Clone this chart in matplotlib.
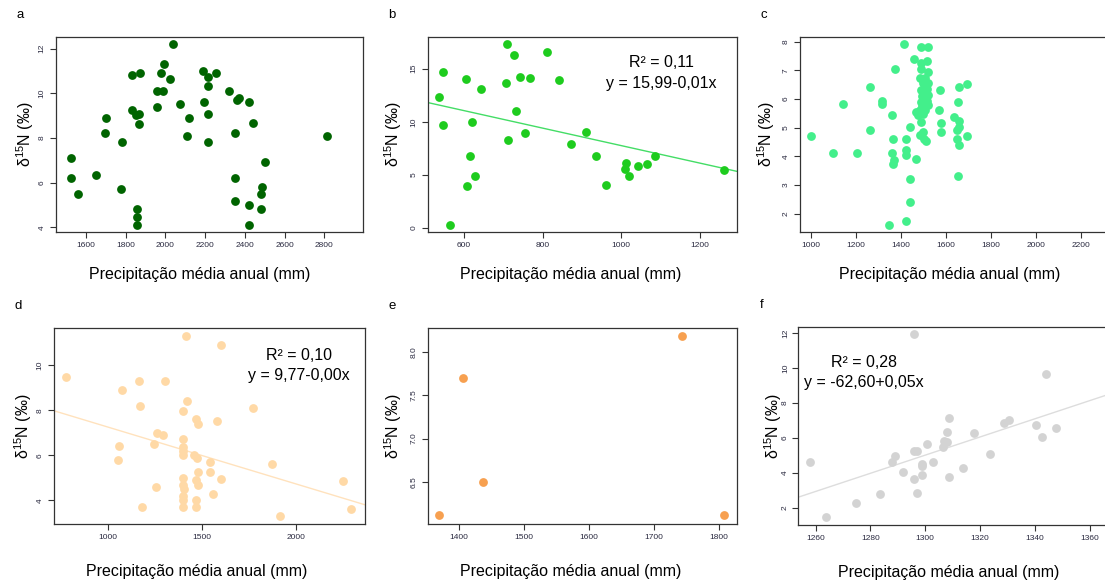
import matplotlib
matplotlib.use("Agg")
import matplotlib.pyplot as plt

plt.rcParams['font.family'] = ['Liberation Sans', 'DejaVu Sans']
plt.rcParams['mathtext.fontset'] = 'custom'
plt.rcParams['mathtext.rm'] = 'Liberation Sans'
plt.rcParams['mathtext.default'] = 'regular'

# painel a
a_x = [1524, 1524, 1561, 1649, 1696, 1701, 1780, 1777, 1834, 1834, 1855, 1872, 1869, 1869,
       1857, 1857, 1857, 1960, 1956, 1987, 1978, 1995, 2024, 2037, 2074, 2119, 2111, 2192,
       2195, 2217, 2217, 2214, 2214, 2256, 2320, 2360, 2370, 2350, 2350, 2350, 2419, 2439,
       2419, 2419, 2503, 2486, 2481, 2481, 2814]
a_y = [7.10, 6.20, 5.50, 6.32, 8.20, 8.90, 7.81, 5.72, 10.80, 9.23, 9.05, 10.92, 9.09, 8.61,
       4.81, 4.48, 4.09, 9.39, 10.11, 10.11, 10.92, 11.33, 10.62, 12.22, 9.51, 8.91, 8.10, 11.00,
       9.63, 10.71, 10.32, 9.09, 7.81, 10.92, 10.11, 9.69, 9.81, 8.21, 6.20, 5.20, 9.63, 8.69,
       5.02, 4.09, 6.92, 5.81, 5.50, 4.81, 8.10]

# painel b
b_x = [536, 546, 546, 563, 604, 607, 615, 621, 627, 642, 708, 706, 713, 727, 731, 743, 754,
       767, 811, 842, 871, 910, 937, 961, 1010, 1013, 1019, 1042, 1066, 1086, 1263]
b_y = [12.36, 14.69, 9.69, 0.28, 14.00, 3.99, 6.76, 10.00, 4.87, 13.05, 17.36, 13.62, 8.30,
       16.26, 11.00, 14.25, 8.93, 14.15, 16.57, 13.90, 7.93, 9.03, 6.76, 4.09, 5.57, 6.13, 4.87,
       5.88, 6.04, 6.82, 5.44]
b_fit = (15.99, -0.00823)

# painel c
c_x = [1000, 1100, 1142, 1207, 1263, 1263, 1319, 1319, 1348, 1363, 1360, 1366, 1370, 1366,
       1373, 1414, 1425, 1425, 1425, 1425, 1443, 1443, 1443, 1460, 1469, 1469, 1491, 1520,
       1516, 1491, 1491, 1520, 1484, 1510, 1498, 1520, 1490, 1515, 1495, 1520, 1490, 1515,
       1495, 1520, 1485, 1510, 1478, 1500, 1490, 1484, 1499, 1514, 1505, 1576, 1569, 1579,
       1579, 1635, 1657, 1693, 1656, 1660, 1660, 1652, 1652, 1660, 1696, 1656]
c_y = [4.72, 4.12, 5.82, 4.12, 6.43, 4.93, 5.92, 5.81, 1.61, 5.43, 4.12, 4.60, 3.86, 3.72,
       7.03, 7.93, 4.60, 4.23, 4.03, 1.73, 5.03, 3.22, 2.42, 7.41, 3.92, 5.54, 7.81, 7.81,
       7.33, 7.24, 7.03, 6.94, 6.72, 6.72, 6.55, 6.55, 6.30, 6.35, 6.10, 6.15, 5.90, 5.92,
       5.75, 5.78, 5.60, 5.60, 5.45, 5.48, 5.20, 4.75, 4.85, 4.55, 4.62, 6.32, 5.63, 5.15,
       4.83, 5.36, 6.43, 6.51, 5.89, 5.24, 5.01, 4.93, 4.62, 4.40, 4.72, 3.32]

# painel d
d_x = [774, 1076, 1163, 1172, 1057, 1053, 1183, 1245, 1258, 1293, 1302, 1254, 1397, 1398,
       1398, 1398, 1398, 1398, 1398, 1402, 1398, 1398, 1398, 1417, 1421, 1467, 1478, 1457,
       1471, 1478, 1467, 1478, 1467, 1467, 1542, 1542, 1556, 1581, 1599, 1602, 1773, 1872,
       1915, 2253, 2296]
d_y = [9.48, 8.89, 9.29, 8.20, 6.42, 5.80, 3.72, 6.49, 7.01, 6.89, 9.29, 4.59, 7.98, 6.71,
       6.39, 6.17, 6.02, 4.99, 4.69, 4.52, 4.18, 4.00, 3.71, 11.28, 8.39, 7.60, 7.41, 6.02,
       5.90, 5.28, 4.91, 4.69, 4.03, 3.71, 5.70, 5.28, 4.29, 7.52, 10.88, 4.93, 8.10, 5.61,
       3.32, 4.84, 3.62]
d_fit = (9.77, -0.00252)

# painel e
e_x = [1369, 1406, 1437, 1744, 1808]
e_y = [6.11, 7.70, 6.50, 8.19, 6.11]

# painel f
f_x = [1257.9, 1263.9, 1274.9, 1283.6, 1287.9, 1289.1, 1291.9, 1296.0, 1297.0, 1296.0,
       1297.2, 1296.0, 1299.0, 1299.0, 1299.0, 1300.6, 1303.0, 1306.6, 1306.9, 1307.9,
       1307.9, 1308.8, 1308.8, 1313.7, 1317.8, 1323.6, 1328.7, 1330.7, 1340.6, 1342.8,
       1344.0, 1347.9]
f_y = [4.62, 1.46, 2.27, 2.75, 4.62, 4.97, 4.03, 3.65, 2.84, 5.24, 5.24, 11.96, 4.49, 4.40,
       3.86, 5.62, 4.62, 5.45, 5.83, 5.73, 6.35, 7.11, 3.76, 4.24, 6.25, 5.04, 6.82, 7.02,
       6.73, 6.06, 9.64, 6.54]
f_fit = (-62.60, 0.0520)

W, H = 1105, 586
fig = plt.figure(figsize=(W / 100, H / 100), dpi=100)


def make_ax(left, top, right, bottom):
    # posição em pixels -> fração da figura
    return fig.add_axes([left / W, 1 - bottom / H, (right - left) / W, (bottom - top) / H])


panels = [
    # letra, caixa, x, y, cor, xlim, ylim, xticks, yticks, ajuste, cor da reta, texto, pos texto, pos xlabel, pos ylabel, pad y
    ('a', (56, 37, 363, 232), a_x, a_y, '#006400', (1450, 2995), (3.79, 12.52),
     range(1600, 2801, 200), [4, 6, 8, 10, 12], None, None, None, None, 0.469, -0.10, 3),
    ('b', (428, 37, 737, 232), b_x, b_y, '#1ecc1e', (508, 1295), (-0.38, 17.99),
     range(600, 1201, 200), [0, 5, 10, 15], b_fit, '#44dd66',
     ('R² = 0,11', 'y = 15,99-0,01x'), (0.754, 0.867, 0.764), 0.463, -0.113, 3),
    ('c', (800, 37, 1108, 232), c_x, c_y, '#43ef8b', (953, 2320), (1.36, 8.16),
     range(1000, 2201, 200), [2, 3, 4, 5, 6, 7, 8], None, None, None, None, 0.487, -0.11, 3),
    ('d', (54, 328, 365, 524), d_x, d_y, '#ffd9a6', (712, 2368), (2.95, 11.65),
     [1000, 1500, 2000], [4, 6, 8, 10], d_fit, '#ffe2bd',
     ('R² = 0,10', 'y = 9,77-0,00x'), (0.788, 0.862, 0.76), 0.46, -0.10, 3),
    ('e', (428, 328, 737, 524), e_x, e_y, '#f7a050', (1352, 1828), (6.01, 8.28),
     range(1400, 1801, 100), [6.5, 7.0, 7.5, 8.0], None, None, None, None, 0.463, -0.113, 3),
    ('f', (798, 327, 1106, 525), f_x, f_y, '#d3d3d3', (1253.6, 1366), (1.0, 12.34),
     range(1260, 1361, 20), [2, 4, 6, 8, 10, 12], f_fit, '#dddddd',
     ('R² = 0,28', 'y = -62,60+0,05x'), (0.214, 0.823, 0.722), 0.49, -0.08, 2),
]

for (letra, box, xs, ys, cor, xlim, ylim, xt, yt, fit, cor_reta, textos, pos_txt,
     xlab_x, ylab_x, pad_y) in panels:
    ax = make_ax(*box)
    ax.scatter(xs, ys, s=40, color=cor, linewidths=0, zorder=3)
    if fit is not None:
        ax.axline((0, fit[0]), slope=fit[1], color=cor_reta, lw=1, zorder=2)
        ax.text(pos_txt[0], pos_txt[1], textos[0], transform=ax.transAxes,
                ha='center', va='center', fontsize=11.5)
        ax.text(pos_txt[0], pos_txt[2], textos[1], transform=ax.transAxes,
                ha='center', va='center', fontsize=11.5)
    ax.set_xlim(xlim)
    ax.set_ylim(ylim)
    ax.set_xticks(list(xt))
    ax.set_yticks(yt)
    ax.set_yticklabels([str(v) for v in yt], rotation=90, va='center')
    ax.tick_params(axis='both', labelsize=6, length=4.5, width=0.8, colors='#333333',
                   labelcolor='#2a2a40', pad=3)
    ax.tick_params(axis='y', pad=pad_y)
    for sp in ax.spines.values():
        sp.set_linewidth(0.9)
        sp.set_color('#333333')

    # rótulos dos eixos
    ax.set_xlabel('Precipitação média anual (mm)', fontsize=11.5, va='center')
    ax.xaxis.set_label_coords(xlab_x, -0.22 if box[1] < 100 else -0.24)
    ax.set_ylabel('δ$^{15}$N (‰)', fontsize=11.5, va='center')
    ax.yaxis.set_label_coords(ylab_x, 0.5)

    # letra do painel
    fig.text((box[0] - 36) / W, 1 - (box[1] - 22) / H, letra, fontsize=9.5,
             ha='center', va='center')

fig.savefig('out.png', dpi=100, facecolor='white')
